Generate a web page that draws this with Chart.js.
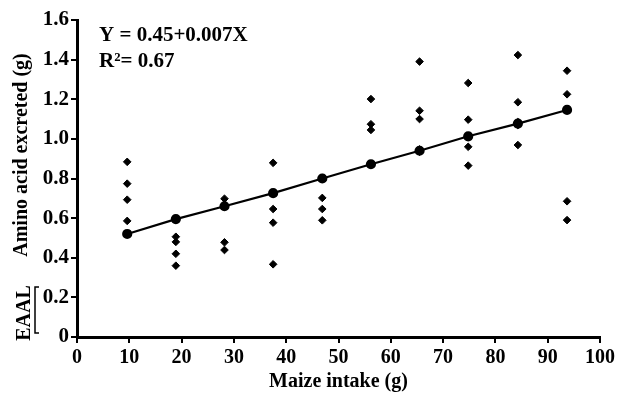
<!DOCTYPE html>
<html>
<head>
<meta charset="utf-8">
<script src="https://cdn.jsdelivr.net/npm/chart.js@4.4.1/dist/chart.umd.min.js"></script>
<style>
  html, body { margin: 0; padding: 0; background: #fff; }
  #wrap { width: 618px; height: 398px; }
</style>
</head>
<body>
<div id="wrap"><canvas id="myChart" width="618" height="398"></canvas></div>
<script>
// maize intake levels (g)
const maizeIntake = [9.6, 18.9, 28.2, 37.5, 46.9, 56.2, 65.5, 74.8, 84.3, 93.7];

// amino acid excreted (g), five birds per intake level
const rep1 = [0.884, 0.595, 0.698, 0.879, 0.804, 1.201, 1.390, 1.282, 1.423, 1.344];
const rep2 = [0.774, 0.506, 0.665, 0.726, 0.800, 1.074, 1.142, 1.097, 1.185, 1.225];
const rep3 = [0.693, 0.480, 0.660, 0.646, 0.702, 1.045, 1.100, 1.013, 1.085, 1.146];
const rep4 = [0.586, 0.420, 0.478, 0.577, 0.646, 0.872, 0.947, 0.960, 1.070, 0.685];
const rep5 = [0.520, 0.360, 0.439, 0.367, 0.589, 0.870, 0.935, 0.865, 0.969, 0.590];

// fitted line points
const fitted = [0.520, 0.595, 0.660, 0.726, 0.800, 0.872, 0.940, 1.013, 1.077, 1.146];

const equationText = ['Y = 0.45+0.007X', 'R\u00b2= 0.67'];

const serif = '"Liberation Serif", "Times New Roman", serif';

let puntos = [];
[rep1, rep2, rep3, rep4, rep5].forEach(rep => {
    rep.forEach((v, i) => puntos.push({ x: maizeIntake[i], y: v }));
});
let linea = maizeIntake.map((x, i) => ({ x: x, y: fitted[i] }));

// extra text: y title, EAAL mark, equation
const textos = {
    id: 'textos',
    afterDraw(chart) {
        const c = chart.ctx;
        c.save();
        c.fillStyle = '#000';
        c.strokeStyle = '#000';
        c.font = 'bold 20px ' + serif;

        c.save();
        c.translate(22, 155);
        c.rotate(-Math.PI / 2);
        c.textAlign = 'center';
        c.textBaseline = 'middle';
        c.fillText('Amino acid excreted (g)', 0, 0);
        c.restore();

        c.save();
        c.translate(25, 313);
        c.rotate(-Math.PI / 2);
        c.textAlign = 'center';
        c.textBaseline = 'middle';
        c.fillText('EAAL', 0, 0);
        c.restore();

        c.lineWidth = 1.5;
        c.beginPath();
        c.moveTo(39, 287);
        c.lineTo(35, 287);
        c.lineTo(35, 333);
        c.lineTo(39, 333);
        c.stroke();

        c.font = 'bold 21px ' + serif;
        c.textAlign = 'left';
        c.textBaseline = 'middle';
        c.fillText(equationText[0], 99, 36);
        c.fillText(equationText[1], 99, 62);
        c.restore();
    }
};

const ctx = document.getElementById('myChart');
const myChart = new Chart(ctx, {
    type: 'scatter',
    data: {
        datasets: [{
            type: 'line',
            data: linea,
            borderColor: '#000',
            backgroundColor: '#000',
            borderWidth: 2.2,
            pointStyle: 'circle',
            pointRadius: 4,
            pointHoverRadius: 4,
            fill: false,
            order: 1
        }, {
            data: puntos,
            backgroundColor: '#000',
            borderColor: '#000',
            pointStyle: 'rectRot',
            pointRadius: 3.8,
            pointHoverRadius: 3.8,
            order: 2
        }]
    },
    options: {
        responsive: false,
        animation: false,
        layout: {
            padding: { top: 20, right: 16, left: 0, bottom: 0 }
        },
        scales: {
            x: {
                type: 'linear',
                min: 0,
                max: 100,
                ticks: {
                    stepSize: 10,
                    color: '#000',
                    padding: 3,
                    font: { family: serif, size: 20, weight: 'bold' }
                },
                grid: {
                    drawOnChartArea: false,
                    drawTicks: true,
                    tickLength: 6,
                    color: '#000',
                    lineWidth: 2
                },
                border: { color: '#000', width: 3 },
                title: {
                    display: true,
                    text: 'Maize intake (g)',
                    color: '#000',
                    padding: { top: 0, bottom: 4 },
                    font: { family: serif, size: 20, weight: 'bold' }
                },
                afterFit(scale) { scale.height = 61; }
            },
            y: {
                min: 0,
                max: 1.6,
                ticks: {
                    stepSize: 0.2,
                    color: '#000',
                    padding: 2,
                    font: { family: serif, size: 21, weight: 'bold' }
                },
                grid: {
                    drawOnChartArea: false,
                    drawTicks: true,
                    tickLength: 6,
                    color: '#000',
                    lineWidth: 2
                },
                border: { color: '#000', width: 3 },
                afterFit(scale) { scale.width = 77; }
            }
        },
        plugins: {
            legend: { display: false },
            tooltip: { enabled: false }
        }
    },
    plugins: [textos]
});
</script>
</body>
</html>
